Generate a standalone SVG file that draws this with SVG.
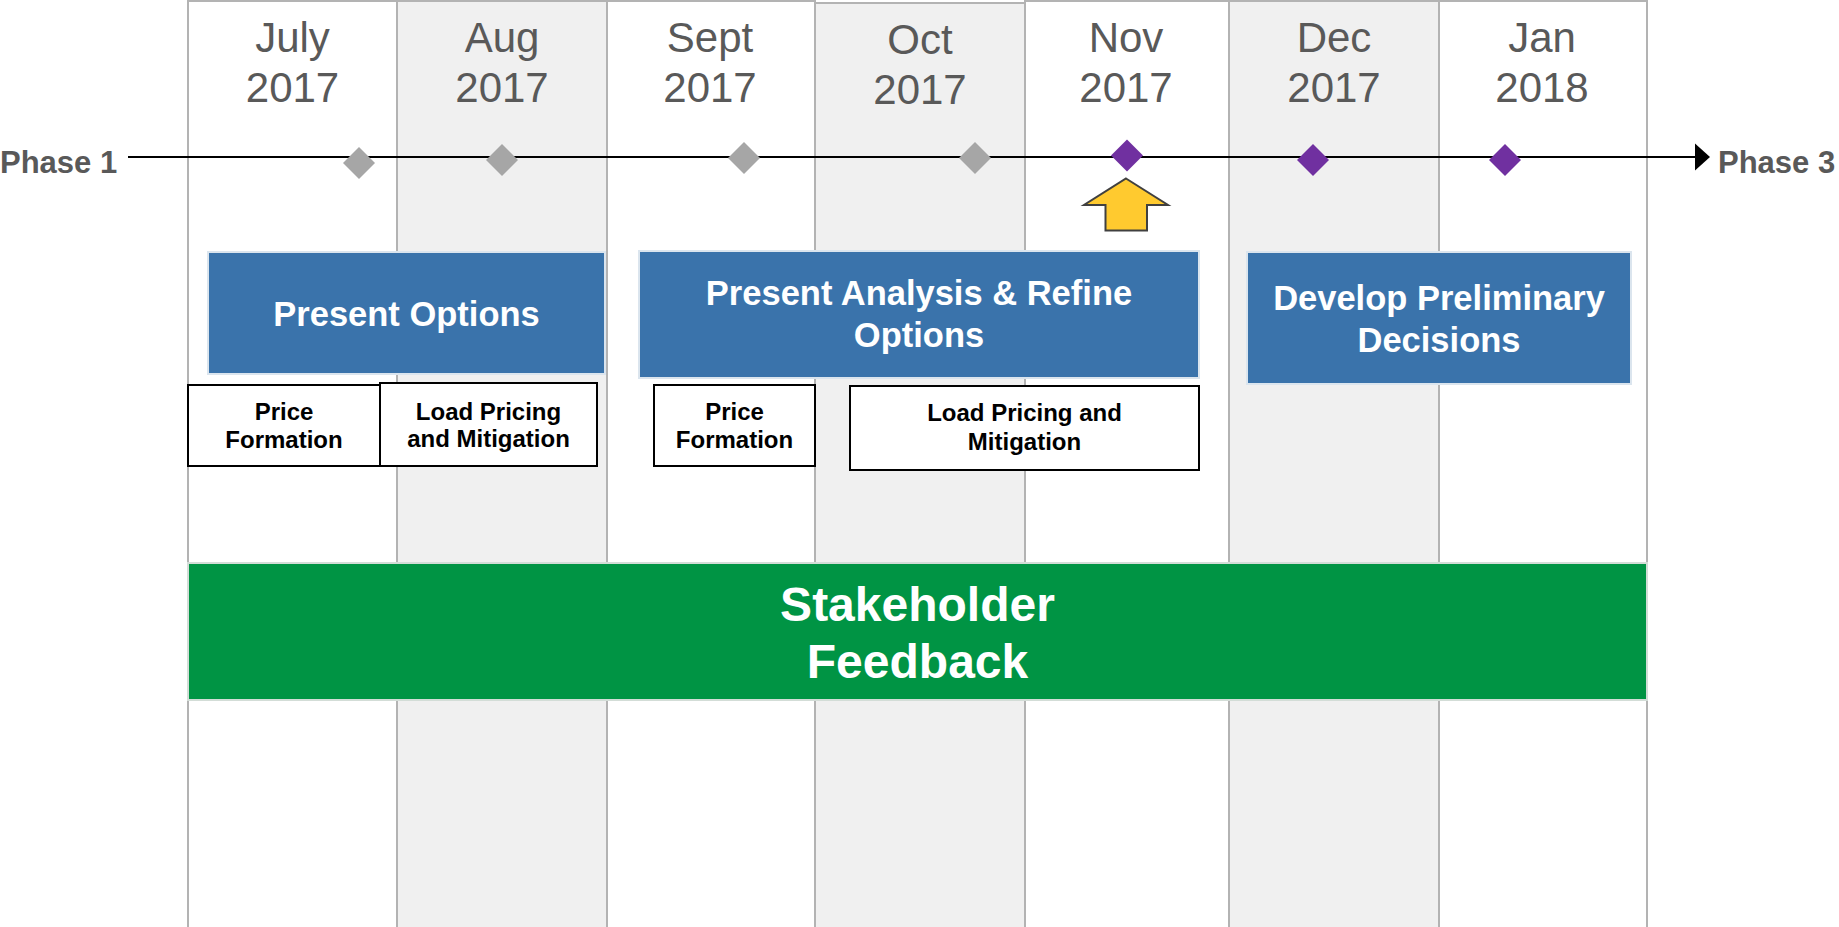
<svg xmlns="http://www.w3.org/2000/svg" width="1839" height="927" viewBox="0 0 1839 927">
  <style>
    .col { stroke: #b3b3b3; stroke-width: 2; }
    .colw { fill: #ffffff; }
    .colg { fill: #f0f0f0; }
    .month { font-family: "Liberation Sans", Arial, sans-serif; font-size: 42px; fill: #595959; text-anchor: middle; }
    .phase { font-family: "Liberation Sans", Arial, sans-serif; font-size: 31px; font-weight: bold; fill: #595959; }
    .grey { fill: #a6a6a6; }
    .purple { fill: #7030a0; }
    .blue { fill: #3a73ab; stroke: #dbe5ee; stroke-width: 2; }
    .bluetxt { font-family: "Liberation Sans", Arial, sans-serif; font-size: 34.5px; font-weight: bold; fill: #ffffff; text-anchor: middle; }
    .sub { fill: #ffffff; stroke: #000000; stroke-width: 2; }
    .subtxt { font-family: "Liberation Sans", Arial, sans-serif; font-size: 24px; font-weight: bold; fill: #000000; text-anchor: middle; }
    .green { fill: #009444; stroke: #d3ddd7; stroke-width: 2; }
    .greentxt { font-family: "Liberation Sans", Arial, sans-serif; font-size: 48px; font-weight: bold; fill: #ffffff; text-anchor: middle; }
  </style>
  <rect x="0" y="0" width="1839" height="927" fill="#ffffff"/>

  <g id="columns">
    <rect class="col colw" x="188" y="1" width="209" height="930"/>
    <rect class="col colg" x="397" y="1" width="210" height="930"/>
    <rect class="col colw" x="607" y="1" width="208" height="930"/>
    <rect class="col colg" x="815" y="3" width="210" height="930"/>
    <rect class="col colw" x="1025" y="1" width="204" height="930"/>
    <rect class="col colg" x="1229" y="1" width="210" height="930"/>
    <rect class="col colw" x="1439" y="1" width="208" height="930"/>
  </g>

  <g id="months">
    <text class="month" x="292.5" y="52">July</text>
    <text class="month" x="292.5" y="102">2017</text>
    <text class="month" x="502" y="52">Aug</text>
    <text class="month" x="502" y="102">2017</text>
    <text class="month" x="710" y="52">Sept</text>
    <text class="month" x="710" y="102">2017</text>
    <text class="month" x="920" y="54">Oct</text>
    <text class="month" x="920" y="104">2017</text>
    <text class="month" x="1126" y="52">Nov</text>
    <text class="month" x="1126" y="102">2017</text>
    <text class="month" x="1334" y="52">Dec</text>
    <text class="month" x="1334" y="102">2017</text>
    <text class="month" x="1542" y="52">Jan</text>
    <text class="month" x="1542" y="102">2018</text>
  </g>

  <g id="connectors">
    <line x1="128" y1="157" x2="1697" y2="157" stroke="#000000" stroke-width="2"/>
    <polygon points="1695,143.5 1710,157 1695,170.5" fill="#000000"/>
  </g>

  <g id="phase1"><text class="phase" x="0" y="173">Phase 1</text></g>
  <g id="phase3"><text class="phase" x="1718" y="173">Phase 3</text></g>

  <g id="milestones">
    <polygon class="grey" points="359,147 375,163 359,179 343,163"/>
    <polygon class="grey" points="502,144 518,160 502,176 486,160"/>
    <polygon class="grey" points="744,142 760,158 744,174 728,158"/>
    <polygon class="grey" points="975,142 991,158 975,174 959,158"/>
    <polygon class="purple" points="1127,139.5 1143,155.5 1127,171.5 1111,155.5"/>
    <polygon class="purple" points="1313,144 1329,160 1313,176 1297,160"/>
    <polygon class="purple" points="1505,144 1521,160 1505,176 1489,160"/>
  </g>

  <g id="current-arrow">
    <polygon points="1126,178.5 1168,205 1147,205 1147,230.5 1105.5,230.5 1105.5,205 1084,205" fill="#ffca2f" stroke="#404040" stroke-width="2" stroke-linejoin="miter"/>
  </g>

  <g id="present-options">
    <rect class="blue" x="208" y="252" width="397" height="122"/>
    <text class="bluetxt" x="406.5" y="326">Present Options</text>
  </g>
  <g id="present-analysis">
    <rect class="blue" x="639" y="251" width="560" height="127"/>
    <text class="bluetxt" x="919" y="305">Present Analysis &amp; Refine</text>
    <text class="bluetxt" x="919" y="347">Options</text>
  </g>
  <g id="develop-decisions">
    <rect class="blue" x="1247" y="252" width="384" height="132"/>
    <text class="bluetxt" x="1439" y="310">Develop Preliminary</text>
    <text class="bluetxt" x="1439" y="352">Decisions</text>
  </g>

  <g id="price-formation-1">
    <rect class="sub" x="188" y="385" width="192" height="81"/>
    <text class="subtxt" x="284" y="420">Price</text>
    <text class="subtxt" x="284" y="448">Formation</text>
  </g>
  <g id="load-pricing-1">
    <rect class="sub" x="380" y="383" width="217" height="83"/>
    <text class="subtxt" x="488.5" y="420">Load Pricing</text>
    <text class="subtxt" x="488.5" y="447">and Mitigation</text>
  </g>
  <g id="price-formation-2">
    <rect class="sub" x="654" y="385" width="161" height="81"/>
    <text class="subtxt" x="734.5" y="420">Price</text>
    <text class="subtxt" x="734.5" y="448">Formation</text>
  </g>
  <g id="load-pricing-2">
    <rect class="sub" x="850" y="386" width="349" height="84"/>
    <text class="subtxt" x="1024.5" y="421">Load Pricing and</text>
    <text class="subtxt" x="1024.5" y="450">Mitigation</text>
  </g>

  <g id="stakeholder-feedback">
    <rect class="green" x="188" y="563" width="1459" height="137"/>
    <text class="greentxt" x="917.5" y="621">Stakeholder</text>
    <text class="greentxt" x="917.5" y="678">Feedback</text>
  </g>
</svg>
